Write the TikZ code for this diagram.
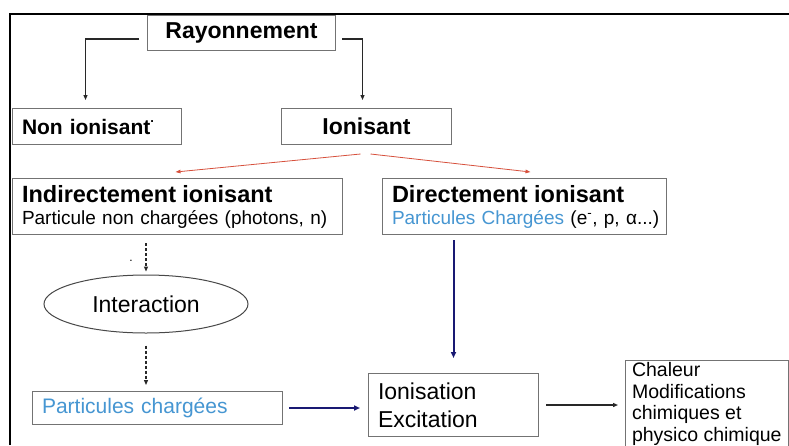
\documentclass[tikz,border=0pt]{standalone}
\usepackage{fontspec}
\setmainfont{Liberation Sans}
\usetikzlibrary{shapes.geometric, arrows.meta, positioning, calc}
\definecolor{boxgray}{RGB}{115,115,115}
\definecolor{lineblack}{RGB}{40,40,40}
\definecolor{ionred}{RGB}{215,80,60}
\definecolor{chargeblue}{RGB}{70,150,210}
\definecolor{arrownavy}{RGB}{25,25,115}
\tikzset{
  box/.style={rectangle, draw=boxgray, line width=1pt, anchor=north west,
    inner xsep=9.5pt, inner ysep=0pt, align=left},
  headbox/.style={box, align=center, font=\fontsize{23}{27}\selectfont\bfseries},
  textbox/.style={box, font=\fontsize{19}{22}\selectfont},
  ellipsebox/.style={ellipse, draw=lineblack!85, line width=1pt, inner sep=0pt,
    font=\fontsize{23}{27}\selectfont},
  arrow/.style={-{Triangle[length=5pt, width=4pt]}, line width=1.1pt, color=lineblack},
  dasharrow/.style={arrow, dash pattern=on 3pt off 2pt},
  redarrow/.style={-{Triangle[length=5pt, width=3.5pt]}, line width=0.8pt, color=ionred},
  bluearrow/.style={-{Triangle[length=6pt, width=5pt]}, line width=2pt, color=arrownavy},
}

\begin{document}
\begin{tikzpicture}[x=1pt, y=-1pt]
  \useasboundingbox (0,0) rectangle (789,445);
  \fill[white] (0,0) rectangle (789,445);
  % frame
  \draw[line width=1.3pt, black] (10,445) -- (10,14) -- (789,14);

  % top level
  \node[headbox, fill=white, minimum width=188pt, minimum height=35pt] (ray) at (147,15) {Rayonnement};
  \node[headbox, font=\fontsize{21}{25}\selectfont\bfseries, align=left,
        text width=150pt, minimum height=36pt] (nonion) at (12,108)
    {Non ionisant\raisebox{1.05ex}{\fontsize{13}{13}\selectfont.}};
  \node[headbox, minimum width=170pt, minimum height=36pt] (ion) at (281,108) {Ionisant};

  % second level
  \node[textbox, text width=311pt, minimum height=56pt] (indir) at (12,178)
    {{\fontsize{23.5}{27}\selectfont\bfseries Indirectement ionisant}\\
     \mbox{Particule non chargées (photons, n)}};
  \node[textbox, text width=265pt, minimum height=56pt] (dir) at (382,178)
    {{\fontsize{23.5}{27}\selectfont\bfseries Directement ionisant}\\
     \mbox{\textcolor{chargeblue}{Particules Chargées} (e\textsuperscript{-}, p, α...)}};

  \node[font=\fontsize{12}{12}\selectfont] (dot) at (131,261) {.};
  \node[ellipsebox, minimum width=204pt, minimum height=58pt] (inter) at (146,304) {Interaction};

  % bottom row
  \node[textbox, font=\fontsize{21}{25}\selectfont, text=chargeblue, text width=231pt,
        minimum height=33pt] (pc) at (32,391) {Particules chargées};
  \node[textbox, font=\fontsize{23}{28}\selectfont, text width=151pt,
        minimum height=63pt] (ionexc) at (368,373) {Ionisation\\Excitation};
  \node[textbox, font=\fontsize{19.5}{21.5}\selectfont, inner xsep=6.5pt, inner ysep=2pt]
    (chal) at (625,360) {Chaleur\\Modifications\\chimiques et\\physico chimique};

  % connectors
  \draw[arrow, shorten <=8pt, shorten >=8pt] ([yshift=-6pt]ray.west) -| ([xshift=-11.5pt]nonion.north);
  \draw[arrow, shorten <=6pt, shorten >=8pt] ([yshift=-6pt]ray.east) -| ([xshift=-4pt]ion.north);

  \coordinate (ionL) at ([xshift=-6pt, yshift=-9pt]ion.south);
  \coordinate (ionR) at ([xshift=4pt, yshift=-9pt]ion.south);
  \draw[redarrow] (ionL) -- ([xshift=-2pt, yshift=6pt]indir.north);
  \draw[redarrow] (ionR) -- ([xshift=6pt, yshift=6pt]dir.north);

  \draw[dasharrow, shorten <=8pt, shorten >=3pt] (inter.north |- indir.south) -- (inter.north);
  \draw[dasharrow, shorten <=12pt, shorten >=6pt] (inter.south) -- (inter.south |- pc.north);

  \draw[bluearrow, shorten <=5pt, shorten >=15pt] (ionexc.north |- dir.south) -- (ionexc.north);
  \draw[bluearrow, shorten <=6pt, shorten >=8pt] (pc.east) -- (pc.east -| ionexc.west);
  \draw[arrow, line width=1.4pt, shorten <=7pt, shorten >=7pt] (ionexc.east) -- (ionexc.east -| chal.west);
\end{tikzpicture}
\end{document}
